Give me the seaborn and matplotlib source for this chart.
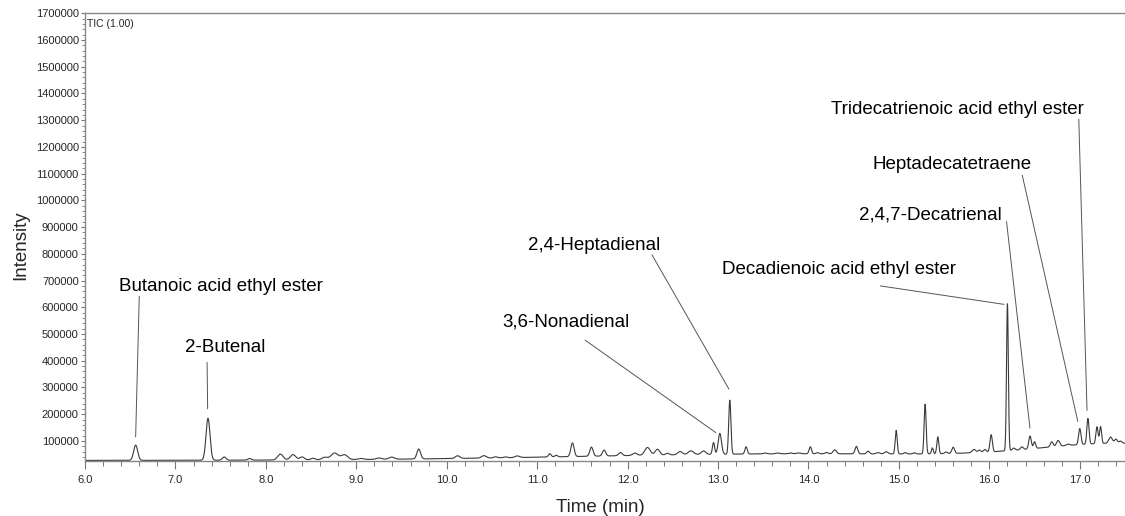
import numpy as np
import pandas as pd
import matplotlib
matplotlib.use("Agg")
import matplotlib.pyplot as plt
from matplotlib.ticker import MultipleLocator
import seaborn as sns

# Peak table (retention time min, height above baseline, sigma min)
peak_times = [6.56, 7.36, 7.54, 7.82, 8.16, 8.30, 8.40, 8.52, 8.65, 8.76, 8.87, 9.05, 9.25,
              9.39, 9.69, 10.12, 10.41, 10.54, 10.65, 10.78, 11.14, 11.21, 11.39, 11.60,
              11.74, 11.92, 12.08, 12.22, 12.33, 12.44, 12.58, 12.70, 12.84, 12.95, 13.02,
              13.13, 13.31, 13.52, 13.66, 13.80, 13.89, 14.02, 14.10, 14.20, 14.29, 14.53,
              14.66, 14.77, 14.86, 14.97, 15.07, 15.17, 15.29, 15.37, 15.43, 15.52, 15.60,
              15.83, 15.89, 15.95, 16.02, 16.20, 16.27, 16.36, 16.45, 16.50, 16.69, 16.76,
              16.87, 17.00, 17.09, 17.19, 17.23, 17.34, 17.40, 17.45]
peak_heights = [57000, 157000, 12000, 6000, 22000, 20000, 11000, 6000, 9000, 25000, 18000,
                4000, 5000, 8000, 37000, 10000, 9000, 4000, 3000, 6000, 12000, 6000, 51000,
                34000, 22000, 12000, 9000, 29000, 22000, 6000, 12000, 14000, 13000, 44000,
                78000, 202000, 27000, 3000, 3000, 3000, 3000, 26000, 4000, 5000, 15000,
                28000, 10000, 5000, 8000, 88000, 5000, 4000, 186000, 22000, 63000, 6000,
                23000, 12000, 9000, 10000, 64000, 550000, 8000, 10000, 48000, 25000, 19000,
                22000, 5000, 60000, 96000, 63000, 63000, 23000, 15000, 8000]
peak_widths = [0.022, 0.022, 0.02, 0.02, 0.03, 0.03, 0.025, 0.025, 0.03, 0.04, 0.035, 0.03,
               0.03, 0.03, 0.02, 0.025, 0.025, 0.02, 0.02, 0.025, 0.015, 0.015, 0.018, 0.018,
               0.018, 0.02, 0.025, 0.03, 0.025, 0.02, 0.025, 0.03, 0.025, 0.012, 0.018, 0.012,
               0.013, 0.02, 0.02, 0.02, 0.02, 0.013, 0.015, 0.015, 0.018, 0.015, 0.015, 0.02,
               0.02, 0.011, 0.015, 0.015, 0.011, 0.01, 0.011, 0.015, 0.015, 0.02, 0.015,
               0.015, 0.013, 0.01, 0.015, 0.015, 0.014, 0.012, 0.015, 0.018, 0.02, 0.013,
               0.012, 0.012, 0.011, 0.02, 0.015, 0.015]

# baseline drift, read as offset plus two broad humps
baseline_offset = 27000
drift_times = [14.0, 17.5]
drift_heights = [25000, 55000]
drift_widths = [2.5, 0.9]

# annotated compounds: label, label centre, leader line start and end (time, intensity)
labels = ["Butanoic acid ethyl ester", "2-Butenal", "3,6-Nonadienal", "2,4-Heptadienal",
          "Decadienoic acid ethyl ester", "2,4,7-Decatrienal", "Heptadecatetraene",
          "Tridecatrienoic acid ethyl ester"]
label_t = [7.50, 7.555, 11.32, 11.634, 14.333, 15.344, 15.587, 15.647]
label_i = [679000, 450000, 544000, 833000, 740000, 946000, 1135000, 1341000]
line_t0 = [6.60, 7.35, 11.53, 12.27, 14.795, 16.19, 16.364, 16.989]
line_i0 = [641000, 394000, 477000, 796000, 680000, 921000, 1094000, 1304000]
line_t1 = [6.56, 7.356, 12.976, 13.12, 16.162, 16.449, 16.978, 17.08]
line_i1 = [115000, 220000, 131000, 294000, 611000, 148000, 173000, 214000]

# build the trace
t = np.linspace(6.0, 17.5, 8000)
signal = np.full_like(t, float(baseline_offset))
for c, h, w in zip(drift_times + peak_times, drift_heights + peak_heights,
                   drift_widths + peak_widths):
    signal += h * np.exp(-0.5 * ((t - c) / w) ** 2)
df = pd.DataFrame({"time": t, "intensity": signal})

sns.set_style("ticks")
plt.rcParams["font.family"] = ["Liberation Sans", "DejaVu Sans"]

fig = plt.figure(figsize=(11.25, 5.16), dpi=100)
ax = fig.add_axes([85 / 1125, (516 - 460.7) / 516, 1040 / 1125, (460.7 - 13.3) / 516])

sns.lineplot(data=df, x="time", y="intensity", ax=ax, color="#3a3a3a",
             linewidth=0.8, estimator=None)

for lab, tx, iy, a0, b0, a1, b1 in zip(labels, label_t, label_i, line_t0, line_i0,
                                        line_t1, line_i1):
    ax.text(tx, iy, lab, ha="center", va="center", fontsize=13.5, color="black")
    ax.plot([a0, a1], [b0, b1], color="#555555", linewidth=0.7)

ax.text(0.002, 0.988, "TIC (1.00)", transform=ax.transAxes, ha="left", va="top",
        fontsize=7.5)

ax.set_xlim(6.0, 17.5)
ax.set_ylim(26000, 1700000)
ax.xaxis.set_major_locator(MultipleLocator(1.0))
ax.xaxis.set_minor_locator(MultipleLocator(0.2))
ax.yaxis.set_major_locator(MultipleLocator(100000))
ax.yaxis.set_minor_locator(MultipleLocator(20000))
ax.xaxis.set_major_formatter(plt.FuncFormatter(lambda v, p: f"{v:.1f}"))
ax.yaxis.set_major_formatter(plt.FuncFormatter(lambda v, p: f"{int(round(v))}"))
ax.tick_params(axis="x", which="major", length=6, width=0.8, color="#777777",
               labelsize=8, pad=4)
ax.tick_params(axis="x", which="minor", length=3.5, width=0.7, color="#777777")
ax.tick_params(axis="y", which="major", length=3, width=0.8, color="#777777",
               labelsize=8, pad=1.5)
ax.tick_params(axis="y", which="minor", length=2, width=0.6, color="#777777")
for side in ["left", "bottom", "top"]:
    ax.spines[side].set_color("#888888")
    ax.spines[side].set_linewidth(1.0)
ax.spines["right"].set_visible(False)
ax.set_xlabel("")
ax.set_ylabel("")

fig.text(600 / 1125, 1 - 508 / 516, "Time (min)", ha="center", va="center", fontsize=13.5)
fig.text(21 / 1125, 1 - 245 / 516, "Intensity", ha="center", va="center",
         rotation=90, fontsize=13.5)

fig.savefig("out.png", dpi=100)
